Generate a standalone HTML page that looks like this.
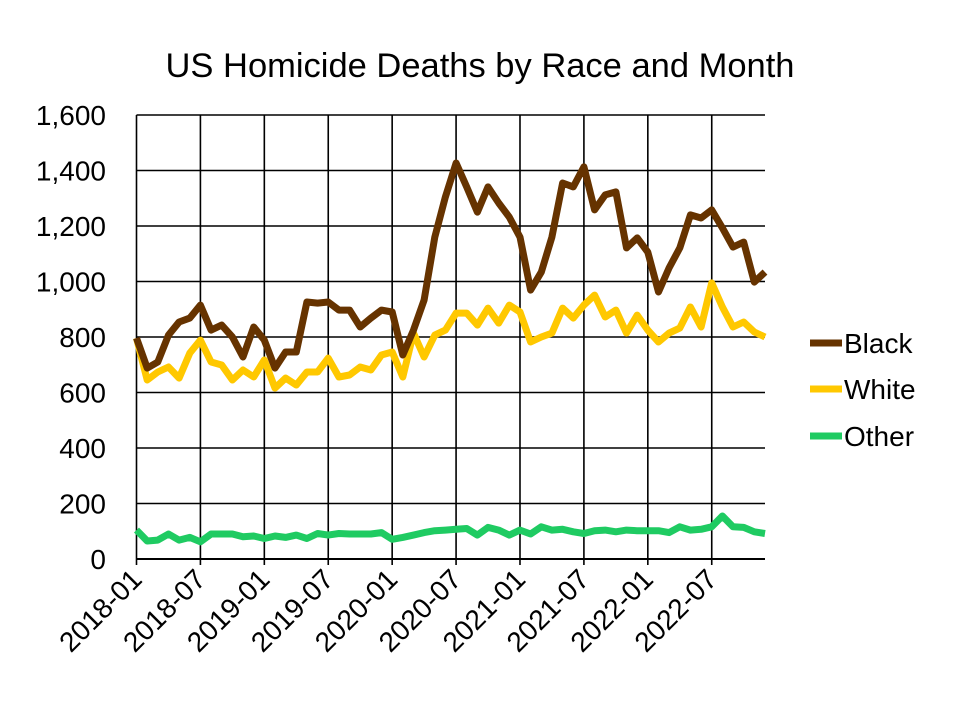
<!DOCTYPE html>
<html><head><meta charset="utf-8"><style>
body{margin:0;background:#fff;}
svg{display:block;font-family:"Liberation Sans",Calibri,sans-serif;}
</style></head><body>
<svg id="chart" width="960" height="720">
<rect width="960" height="720" fill="#fff"/>
<text x="480" y="77" text-anchor="middle" font-size="34.5" fill="#000">US Homicide Deaths by Race and Month</text>
<g id="grid"></g><g id="series"></g><g id="axes"></g>
<g>
<g><line x1="810" y1="343" x2="842" y2="343" stroke="#663300" stroke-width="7"/><text x="844" y="353" font-size="28">Black</text></g>
<g><line x1="810" y1="389" x2="842" y2="389" stroke="#FFC800" stroke-width="7"/><text x="844" y="399" font-size="28">White</text></g>
<g><line x1="810" y1="436" x2="842" y2="436" stroke="#1FCB62" stroke-width="7"/><text x="844" y="446" font-size="28">Other</text></g>
</g>
</svg>
<script>
const black=[796,688,710,807,854,868,915,825,843,800,728,836,789,688,746,746,926,922,926,897,897,836,868,897,890,735,825,933,1160,1305,1427,1341,1250,1341,1283,1232,1160,969,1034,1160,1355,1341,1413,1258,1312,1323,1121,1157,1106,962,1049,1121,1240,1229,1258,1193,1124,1142,998,1034];
const white=[796,645,674,692,652,742,789,710,699,645,681,656,717,616,652,627,674,674,724,656,663,692,681,735,746,656,814,728,807,825,886,886,843,904,850,915,890,782,800,814,904,868,915,951,872,897,814,879,825,782,814,832,908,836,995,908,836,854,818,800];
const other=[104,65,68,90,68,78,62,90,90,90,80,83,74,83,78,86,74,92,86,92,90,90,90,95,71,78,86,95,102,104,107,110,86,114,104,86,104,90,116,104,107,98,92,102,104,98,104,102,102,102,95,116,104,107,116,155,116,114,98,92];
const yTicks=[0,200,400,600,800,1000,1200,1400,1600];
const yTickLabels=["0","200","400","600","800","1,000","1,200","1,400","1,600"];
const xTickIdx=[0,6,12,18,24,30,36,42,48,54];
const xTickLabels=["2018-01","2018-07","2019-01","2019-07","2020-01","2020-07","2021-01","2021-07","2022-01","2022-07"];
const NS="http://www.w3.org/2000/svg";
const X0=136.5,X1=765,Y0=559,Y1=115,N=60;
const xs=i=>X0+(X1-X0)*i/(N-1);
const ys=v=>Y0-(Y0-Y1)*v/1600;
function mk(t,a,p){const e=document.createElementNS(NS,t);for(const k in a)e.setAttribute(k,a[k]);p.appendChild(e);return e;}
const grid=document.getElementById('grid'),axes=document.getElementById('axes'),ser=document.getElementById('series');
yTicks.forEach((v,k)=>{
  const l=mk('line',{x1:X0,x2:X1,y1:ys(v),y2:ys(v),stroke:'#000','stroke-width':v===0?2:1.6},grid);
  
  
  const t=mk('text',{x:106,y:ys(v)+10,'text-anchor':'end','font-size':28},axes);
  t.textContent=yTickLabels[k];
  
  
});
xTickIdx.forEach((i,k)=>{
  const l=mk('line',{x1:xs(i),x2:xs(i),y1:Y1,y2:Y0+6,stroke:'#000','stroke-width':1.6},grid);
  
  
  const x=xs(i)+7,y=Y0+22;
  const t=mk('text',{x:x,y:y,'text-anchor':'end','font-size':28,transform:`rotate(-45 ${x} ${y})`},axes);
  t.textContent=xTickLabels[k];
  
  
});
function line(d,c,name){
  const p=mk('polyline',{points:d.map((v,i)=>xs(i).toFixed(1)+','+ys(v).toFixed(1)).join(' '),fill:'none',stroke:c,'stroke-width':7,'stroke-linejoin':'round'},ser);
  
  
}
line(other,'#1FCB62','series-other');
line(white,'#FFC800','series-white');
line(black,'#663300','series-black');
</script>
</body></html>
